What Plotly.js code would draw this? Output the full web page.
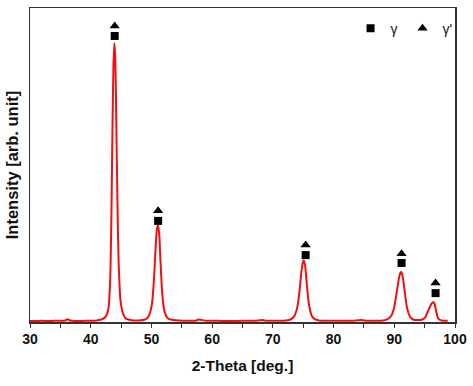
<!DOCTYPE html>
<html><head><meta charset="utf-8">
<script src="https://cdn.plot.ly/plotly-3.0.1.min.js"></script>
<style>html,body{margin:0;padding:0;background:#fff}</style>
</head><body>
<div id="chart" style="width:473px;height:386px"></div>
<script>
// 2-Theta (deg) and intensity (arb. unit)
const twoTheta = [30,31,32,33,34,35,35.8,36.2,36.6,37,38,39,40,41,41.6,42,42.5,42.9,43.2,43.4,43.6,43.75,43.9,44.05,44.2,44.4,44.6,44.9,45.3,45.7,46.2,47,48,48.8,49.3,49.7,50.1,50.4,50.7,50.9,51.1,51.3,51.5,51.8,52.2,52.7,53.4,54.5,56,57.4,57.8,59,61,63,65,67,68.3,69,71,72.2,72.9,73.5,74,74.4,74.7,74.95,75.1,75.3,75.55,75.9,76.4,76.9,77.6,79,81,83,84.6,85.5,87,88.2,88.9,89.5,90,90.4,90.75,91,91.15,91.4,91.7,92.1,92.6,93.1,93.8,94.6,95.1,95.5,95.9,96.2,96.45,96.65,96.9,97.2,97.6,98.1,98.8,99.5,100];
const intensity = [3,3,4,3,4,4,5,9,5,4,3,4,4,5,7,10,18,40,130,330,640,820,888,840,660,380,190,70,28,13,8,5,5,7,12,25,60,130,240,295,309,275,190,85,30,12,7,5,4,5,8,4,4,3,4,4,6,4,4,5,8,18,45,100,160,190,197,182,130,62,20,9,5,4,4,4,6,4,4,5,9,20,48,95,138,156,159,143,100,45,17,8,6,8,15,32,50,60,64,57,34,12,6,4,4];
// phase marker positions (peak labels)
const peakPos = [43.95, 51.1, 75.4, 91.2, 96.8];
const gammaY = [911, 322, 213, 188, 92];
const gammaPrimeY = [943, 354, 245, 217, 124];

const traces = [
  {x: twoTheta, y: intensity, type: 'scatter', mode: 'lines', showlegend: false,
   line: {color: '#f01010', width: 2, shape: 'spline', smoothing: 0.6}, hoverinfo: 'skip'},
  {x: peakPos, y: gammaY, type: 'scatter', mode: 'markers', name: 'γ',
   marker: {symbol: 'square', size: 8, color: '#000'}},
  {x: peakPos, y: gammaPrimeY, type: 'scatter', mode: 'markers', name: "γ'",
   marker: {symbol: 'triangle-up', size: 9, color: '#000'}}
];

const layout = {
  width: 473, height: 386,
  margin: {l: 30, r: 18, t: 8, b: 64},
  paper_bgcolor: '#fff', plot_bgcolor: '#fff',
  font: {family: 'Liberation Sans, Arial, sans-serif', color: '#111'},
  showlegend: true,
  legend: {orientation: 'h', x: 1.006, xanchor: 'right', y: 0.985, yanchor: 'top',
           bgcolor: 'rgba(0,0,0,0)', font: {size: 14, color: '#111'}, itemwidth: 30,
           tracegroupgap: 0},
  xaxis: {
    range: [30, 100], tickvals: [30,40,50,60,70,80,90,100],
    ticktext: ['30','40','50','60','70','80','90','100'],
    ticks: 'outside', ticklen: 4, tickwidth: 1, tickcolor: '#333',
    minor: {dtick: 5, ticks: 'outside', ticklen: 4, tickwidth: 1, tickcolor: '#333', showgrid: false},
    showgrid: false, zeroline: false,
    showline: true, linecolor: '#333', linewidth: 1.5, mirror: true,
    tickfont: {size: 14, family: 'Liberation Sans, Arial, sans-serif', color: '#111', weight: 'bold'},
    title: {text: '<b>2-Theta [deg.]</b>', font: {size: 15.5, color: '#111'}, standoff: 14}
  },
  yaxis: {
    range: [0, 1000], showticklabels: false, ticks: '', showgrid: false, zeroline: false,
    showline: true, linecolor: '#333', linewidth: 1.5, mirror: true,
    title: {text: '<b>Intensity [arb. unit]</b>', font: {size: 16.5, color: '#111'}, standoff: 5}
  }
};
Plotly.newPlot('chart', traces, layout, {displayModeBar: false, staticPlot: true});
</script>
</body></html>
